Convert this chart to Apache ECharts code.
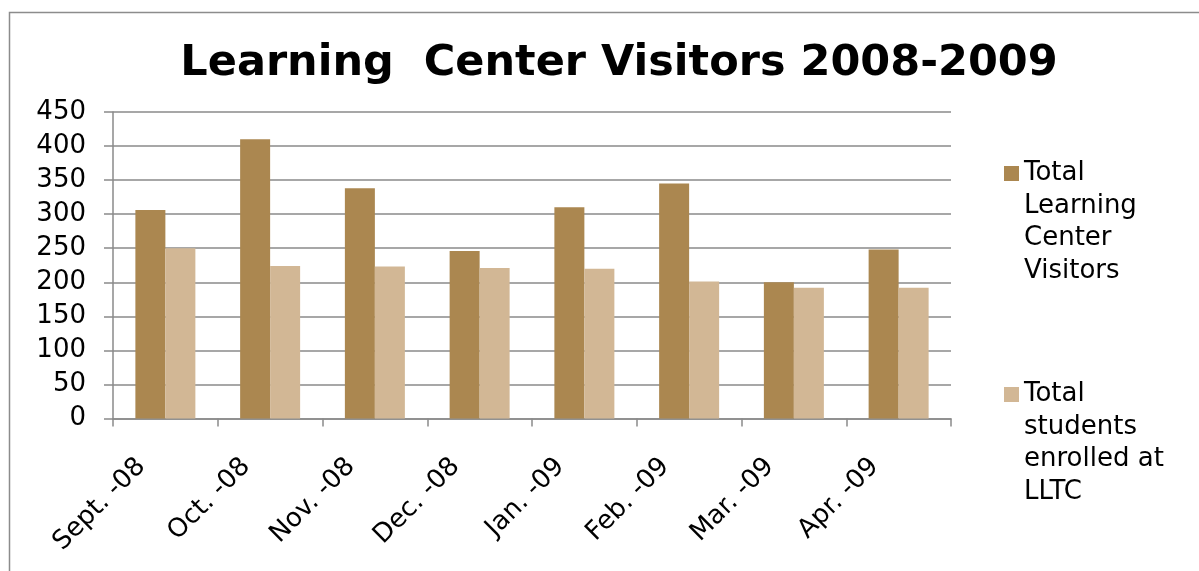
<!DOCTYPE html>
<html>
<head>
<meta charset="utf-8">
<title>Learning Center Visitors 2008-2009</title>
<script src="https://cdn.jsdelivr.net/npm/echarts@6/dist/echarts.min.js"></script>
<style>
  html, body { margin: 0; padding: 0; background: #fff; }
  #chart { width: 1199px; height: 571px; }
</style>
</head>
<body>
<div id="chart"></div>
<script>
// data
var months = ['Sept. -08', 'Oct. -08', 'Nov. -08', 'Dec. -08', 'Jan. -09', 'Feb. -09', 'Mar. -09', 'Apr. -09']
var visitors = [306, 410, 338, 246, 310, 345, 200, 248]
var enrolled = [250, 224, 223, 221, 220, 201, 192, 192]
var seriesNames = ['Total Learning Center Visitors', 'Total students enrolled at LLTC']
var legendLines = {
  'Total Learning Center Visitors': ['Total', 'Learning', 'Center', 'Visitors'],
  'Total students enrolled at LLTC': ['Total', 'students', 'enrolled at', 'LLTC']
}

var FONT = 'DejaVu Sans, Verdana, sans-serif'
var GRID_GRAY = '#8a8a8a'
var LINE_H = 32.5

var chart = echarts.init(document.getElementById('chart'))

// the icon is centred on the text block, so pad it with empty lines on top
// to line it up with the first line of the name
function legendFor(name, top) {
  return {
    data: [name],
    orient: 'vertical',
    left: 1004,
    top: top,
    padding: 0,
    itemWidth: 15,
    itemHeight: 15,
    icon: 'rect',
    formatter: function (n) {
      var lines = legendLines[n]
      var pad = []
      for (var i = 1; i < lines.length; i++) pad.push(' ')
      return pad.concat(lines).join('\n')
    },
    textStyle: {
      fontFamily: FONT,
      fontSize: 26,
      color: '#000',
      lineHeight: LINE_H
    }
  }
}

chart.setOption({
  animation: false,
  backgroundColor: '#fff',
  title: {
    text: 'Learning  Center Visitors 2008-2009',
    left: 614,
    textAlign: 'center',
    top: 37,
    textStyle: {
      fontFamily: FONT,
      fontSize: 43,
      fontWeight: 'bold',
      color: '#000'
    }
  },
  // outer chart frame
  graphic: [{
    type: 'rect',
    left: 7,
    top: 10,
    shape: { width: 1400, height: 800 },
    style: { fill: 'none', stroke: '#8c8c8c', lineWidth: 1.5 },
    silent: true
  }],
  legend: [
    legendFor(seriesNames[0], 173.5 - LINE_H * 3.5),
    legendFor(seriesNames[1], 394.5 - LINE_H * 3.5)
  ],
  grid: {
    left: 113,
    right: 248,
    top: 112,
    bottom: 152.5,
    containLabel: false,
    outerBoundsMode: 'none'
  },
  xAxis: {
    type: 'category',
    data: months,
    axisLine: { lineStyle: { color: GRID_GRAY, width: 1.5 } },
    axisTick: {
      show: true,
      interval: 0,
      length: 8,
      alignWithLabel: false,
      lineStyle: { color: GRID_GRAY, width: 1.5 }
    },
    axisLabel: {
      interval: 0,
      rotate: 45,
      margin: 20,
      padding: [0, 34, 0, 0],
      fontFamily: FONT,
      fontSize: 26,
      color: '#000'
    },
    splitLine: { show: false }
  },
  yAxis: {
    type: 'value',
    min: 0,
    max: 450,
    interval: 50,
    axisLine: { show: true, lineStyle: { color: GRID_GRAY, width: 1.5 } },
    axisTick: { show: true, length: 9, lineStyle: { color: GRID_GRAY, width: 1.5 } },
    axisLabel: {
      margin: 27,
      fontFamily: FONT,
      fontSize: 26,
      color: '#000'
    },
    splitLine: { show: true, lineStyle: { color: GRID_GRAY, width: 1.5 } }
  },
  series: [
    {
      name: seriesNames[0],
      type: 'bar',
      data: visitors,
      barWidth: 30,
      barGap: '0%',
      itemStyle: { color: '#ab8750' }
    },
    {
      name: seriesNames[1],
      type: 'bar',
      data: enrolled,
      barWidth: 30,
      itemStyle: { color: '#d2b795' }
    }
  ]
})
</script>
</body>
</html>
